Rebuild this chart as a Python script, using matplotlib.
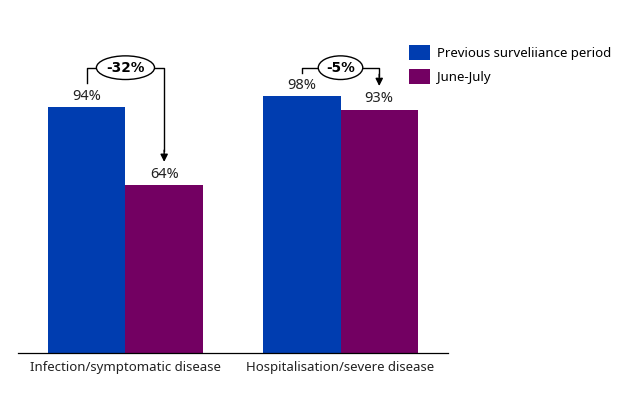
import matplotlib
matplotlib.use("Agg")
import matplotlib.pyplot as plt
import numpy as np

plt.rcParams['font.family'] = ['Noto Sans', 'DejaVu Sans']

categories = ["Infection/symptomatic disease", "Hospitalisation/severe disease"]
series_names = ["Previous surveliiance period", "June-July"]
previous = [94, 98]
june_july = [64, 93]
changes = ["-32%", "-5%"]

blue = "#003db0"
purple = "#730062"

fig = plt.figure(figsize=(6.18, 3.93), dpi=100)
ax = fig.add_axes([0.029, 0.102, 0.696, 0.799])

x = np.arange(len(categories))
w = 0.36
b1 = ax.bar(x - w / 2, previous, width=w, color=blue, label=series_names[0])
b2 = ax.bar(x + w / 2, june_july, width=w, color=purple, label=series_names[1])

# value labels
for bars, vals in [(b1, previous), (b2, june_july)]:
    for r, v in zip(bars, vals):
        ax.text(r.get_x() + r.get_width() / 2, v + 1.3, f"{v}%",
                ha="center", va="bottom", fontsize=10.5, color="#222222")

# change brackets
top = 109
for i in range(len(categories)):
    xl = x[i] - w / 2
    xr = x[i] + w / 2
    ax.plot([xl, xl, xr, xr], [previous[i] + 9, top, top, june_july[i] + 13],
            color="black", lw=1, clip_on=False)
    ax.annotate("", xy=(xr, june_july[i] + 9), xytext=(xr, june_july[i] + 13.5),
                arrowprops=dict(arrowstyle="-|>", color="black", lw=1,
                                mutation_scale=11, shrinkA=0, shrinkB=0),
                annotation_clip=False)
    ax.text(x[i], top, changes[i], ha="center", va="center", fontsize=9.8,
            fontweight="bold", family=["DejaVu Sans"],
            bbox=dict(boxstyle="ellipse,pad=0.1", fc="white", ec="black", lw=1))

ax.set_xlim(-0.5, 1.5)
ax.set_ylim(0, 120)
ax.set_xticks(x)
ax.set_xticklabels(categories, fontsize=9.5, color="#222222")
ax.tick_params(axis="x", length=0, pad=6)
ax.set_yticks([])
for s in ["top", "right", "left"]:
    ax.spines[s].set_visible(False)
ax.spines["bottom"].set_linewidth(0.9)

fig.legend(handles=[b1, b2], labels=series_names, loc="upper left",
           bbox_to_anchor=(0.643, 0.915), frameon=False, fontsize=9.5,
           handlelength=1.6, handleheight=1.3, handletextpad=0.5,
           labelspacing=0.7)

fig.savefig("out.png", dpi=100)
